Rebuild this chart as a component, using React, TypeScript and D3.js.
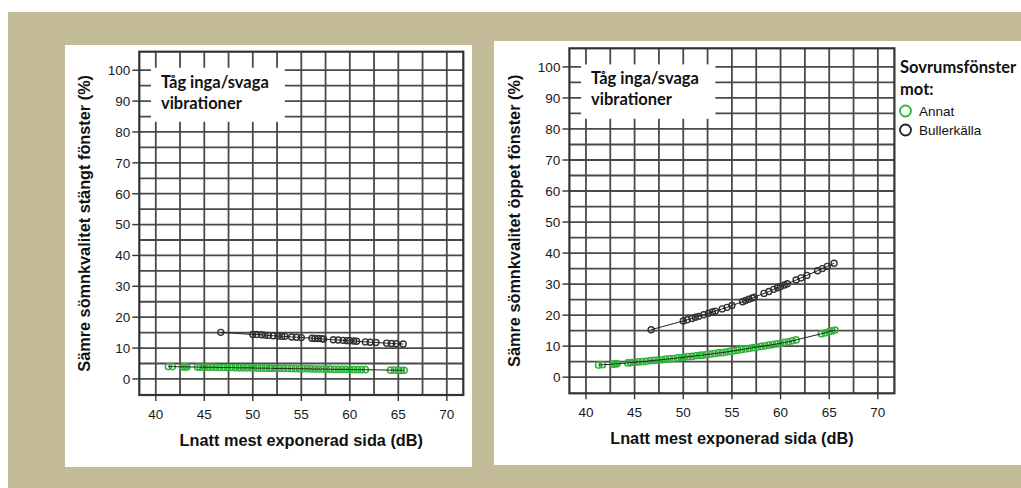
import React from "react";
import * as d3 from "d3";

// ---- data ----
const blackX = [46.7, 50.0, 50.4, 50.9, 51.25, 51.6, 52.1, 52.6, 53.0, 53.3, 54.0, 54.5, 55.0, 56.1, 56.4, 56.75, 57.1, 57.3, 58.3, 58.8, 59.3, 59.7, 60.0, 60.4, 60.7, 61.6, 62.1, 62.7, 63.8, 64.3, 64.8, 65.5];
const blackYClosed = [15.1, 14.4, 14.4, 14.3, 14.2, 14.1, 14.0, 13.9, 13.8, 13.8, 13.6, 13.5, 13.4, 13.2, 13.1, 13.1, 13.0, 12.9, 12.7, 12.6, 12.5, 12.4, 12.4, 12.3, 12.2, 12.0, 11.9, 11.8, 11.6, 11.5, 11.4, 11.3];
const blackYOpen = [15.3, 18.1, 18.5, 18.9, 19.3, 19.6, 20.1, 20.6, 21.0, 21.3, 22.0, 22.5, 23.1, 24.3, 24.7, 25.1, 25.5, 25.8, 27.0, 27.6, 28.3, 28.8, 29.2, 29.7, 30.1, 31.3, 32.0, 32.8, 34.3, 35.0, 35.7, 36.7];

const greenX = [41.3, 41.7, 42.8, 43.0, 43.2, 44.3, 44.6, 45.0, 45.4, 45.8, 46.2, 46.6, 47.0, 47.4, 47.8, 48.2, 48.6, 49.0, 49.4, 49.8, 50.1, 50.5, 50.9, 51.3, 51.7, 52.0, 52.4, 52.8, 53.2, 53.6, 54.0, 54.4, 54.8, 55.2, 55.6, 56.0, 56.4, 56.8, 57.2, 57.6, 58.0, 58.4, 58.8, 59.2, 59.6, 60.0, 60.4, 60.8, 61.2, 61.6, 64.2, 64.6, 65.0, 65.3, 65.6];
const greenYClosed = [4.0, 4.0, 3.9, 3.9, 3.9, 3.85, 3.8, 3.8, 3.8, 3.8, 3.75, 3.7, 3.7, 3.7, 3.7, 3.65, 3.6, 3.6, 3.6, 3.6, 3.55, 3.5, 3.5, 3.5, 3.5, 3.45, 3.4, 3.4, 3.4, 3.4, 3.35, 3.3, 3.3, 3.3, 3.3, 3.25, 3.2, 3.2, 3.2, 3.2, 3.15, 3.1, 3.1, 3.1, 3.1, 3.05, 3.0, 3.0, 3.0, 3.0, 2.85, 2.85, 2.8, 2.8, 2.8];
const greenYOpen = [3.9, 4.0, 4.2, 4.3, 4.3, 4.6, 4.7, 4.8, 4.9, 5.0, 5.1, 5.3, 5.4, 5.5, 5.6, 5.8, 5.9, 6.0, 6.2, 6.3, 6.4, 6.6, 6.7, 6.9, 7.0, 7.1, 7.3, 7.4, 7.6, 7.8, 7.9, 8.1, 8.3, 8.5, 8.7, 8.9, 9.1, 9.3, 9.5, 9.7, 9.9, 10.1, 10.3, 10.5, 10.7, 10.9, 11.2, 11.4, 11.7, 12.0, 14.0, 14.3, 14.7, 14.9, 15.2];

const xTicks = [40, 45, 50, 55, 60, 65, 70];
const yTicks = [0, 10, 20, 30, 40, 50, 60, 70, 80, 90, 100];
const xGrid = [40, 42.5, 45, 47.5, 50, 52.5, 55, 57.5, 60, 62.5, 65, 67.5, 70];
const yGrid = [0, 5, 10, 15, 20, 25, 30, 35, 40, 45, 50, 55, 60, 65, 70, 75, 80, 85, 90, 95, 100];

const boxLines = ["Tåg inga/svaga", "vibrationer"];
const legendTitle = ["Sovrumsfönster", "mot:"];
const legendItems = ["Annat", "Bullerkälla"];
const xTitle = "Lnatt mest exponerad sida (dB)";
const yTitleClosed = "Sämre sömnkvalitet stängt fönster  (%)";
const yTitleOpen = "Sämre sömnkvalitet öppet fönster (%)";

const GREEN = "#2fb53a";
const DARK = "#333333";
const ARIAL = "'Liberation Sans', Arial, sans-serif";
const CAL = "Lato, 'Open Sans', sans-serif";

type PanelProps = {
  x0: number; x1: number; y0: number; y1: number;
  yTitle: string; blackY: number[]; greenY: number[];
};

function Panel({ x0, x1, y0, y1, yTitle, blackY, greenY }: PanelProps) {
  const xs = d3.scaleLinear().domain([38.3, 71.7]).range([x0, x1]);
  const ys = d3.scaleLinear().domain([-5.2, 106]).range([y1, y0]);
  const line = d3.line<[number, number]>().x((d) => xs(d[0])).y((d) => ys(d[1]));
  const blackPts: [number, number][] = blackX.map((x, i) => [x, blackY[i]]);
  const greenPts: [number, number][] = greenX.map((x, i) => [x, greenY[i]]);
  const bx0 = xs(39.5), bx1 = xs(53.3);
  const by0 = ys(100.8), by1 = ys(83.3);
  const cx = (x0 + x1) / 2, cy = (y0 + y1) / 2;
  return (
    <g>
      {xGrid.map((g) => (
        <line key={"vx" + g} x1={xs(g)} x2={xs(g)} y1={y0} y2={y1} stroke="#4a4a4a" strokeWidth={1.8} />
      ))}
      {yGrid.map((g) => (
        <line key={"hy" + g} x1={x0} x2={x1} y1={ys(g)} y2={ys(g)} stroke="#4a4a4a" strokeWidth={1.8} />
      ))}
      <rect x={x0} y={y0} width={x1 - x0} height={y1 - y0} fill="none" stroke="#333" strokeWidth={2.2} />
      {xTicks.map((t) => (
        <g key={"xt" + t}>
          <line x1={xs(t)} x2={xs(t)} y1={y1} y2={y1 + 6} stroke="#333" strokeWidth={1.4} />
          <text x={xs(t)} y={y1 + 24} textAnchor="middle" fontFamily={ARIAL} fontSize={13.5} fill="#1a1a1a">{t}</text>
        </g>
      ))}
      {yTicks.map((t) => (
        <g key={"yt" + t}>
          <line x1={x0 - 7} x2={x0} y1={ys(t)} y2={ys(t)} stroke="#333" strokeWidth={1.4} />
          <text x={x0 - 9} y={ys(t) + 4.8} textAnchor="end" fontFamily={ARIAL} fontSize={13.5} fill="#1a1a1a">{t}</text>
        </g>
      ))}
      <rect x={bx0} y={by0} width={bx1 - bx0} height={by1 - by0} fill="#fff" />
      {boxLines.map((s, i) => (
        <text key={s} x={bx0 + 10} y={by0 + 20 + i * 21} fontFamily={CAL} fontWeight="bold" fontSize={16.5} fill="#111">{s}</text>
      ))}
      {greenPts.map((p, i) => (
        <circle key={"g" + i} cx={xs(p[0])} cy={ys(p[1])} r={3.1} fill="none" stroke={GREEN} strokeWidth={1.5} />
      ))}
      {blackPts.map((p, i) => (
        <circle key={"b" + i} cx={xs(p[0])} cy={ys(p[1])} r={3} fill="none" stroke={DARK} strokeWidth={1.4} />
      ))}
      <path d={line(greenPts) || ""} fill="none" stroke="#222" strokeWidth={1} />
      <path d={line(blackPts) || ""} fill="none" stroke="#222" strokeWidth={1} />
      <text transform={`translate(${x0 - 49},${cy}) rotate(-90)`} textAnchor="middle" fontFamily={ARIAL} fontWeight="bold" fontSize={16.3} fill="#111">{yTitle}</text>
      <text x={cx} y={y1 + 51} textAnchor="middle" fontFamily={ARIAL} fontWeight="bold" fontSize={16.3} fill="#111">{xTitle}</text>
    </g>
  );
}

export default function App() {
  return (
    <div style={{ position: "fixed", left: 0, top: 0 }}>
      <svg width={1021} height={488} style={{ display: "block" }}>
        <rect x={0} y={0} width={1021} height={488} fill="#fff" />
        <rect x={8} y={12} width={1013} height={476} fill="#c4bb98" />
        <rect x={65} y={45} width={407} height={422} fill="#fff" />
        <rect x={494} y={41} width={527} height={424} fill="#fff" />
        <Panel x0={139.3} x1={463.3} y0={51.7} y1={395} yTitle={yTitleClosed} blackY={blackYClosed} greenY={greenYClosed} />
        <Panel x0={569.4} x1={894.4} y0={48.3} y1={393.3} yTitle={yTitleOpen} blackY={blackYOpen} greenY={greenYOpen} />
        {legendTitle.map((s, i) => (
          <text key={s} x={900} y={73 + i * 22} fontFamily={CAL} fontWeight="bold" fontSize={16.5} fill="#111">{s}</text>
        ))}
        {legendItems.map((s, i) => (
          <g key={s}>
            <circle cx={905.5} cy={111 + i * 19} r={5.5} fill="none" stroke={i === 0 ? GREEN : "#222"} strokeWidth={1.8} />
            <text x={919} y={115.5 + i * 19} fontFamily={ARIAL} fontSize={13.5} fill="#111">{s}</text>
          </g>
        ))}
      </svg>
    </div>
  );
}
